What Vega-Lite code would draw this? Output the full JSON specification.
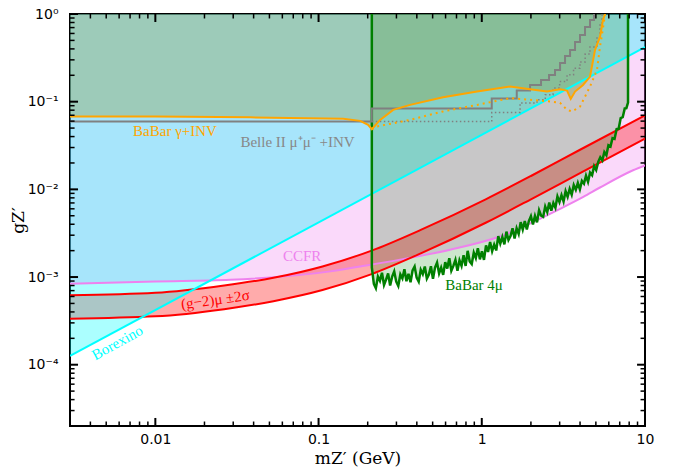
{
  "$schema": "https://vega.github.io/schema/vega-lite/v6.json",
  "width": 575,
  "height": 412,
  "autosize": {"type": "none"},
  "padding": {"left": 70, "top": 14, "right": 35, "bottom": 49},
  "background": "white",
  "config": {
    "view": {"stroke": "black", "strokeWidth": 2},
    "axis": {"domain": false, "grid": false, "labelFont": "DejaVu Sans", "labelFontSize": 14, "labelColor": "black", "labelFlush": false, "labelOverlap": false, "labelBound": false}
  },
  "datasets": {
    "xmajor": [{"v": 0.01}, {"v": 0.1}, {"v": 1}, {"v": 10}],
    "xminor": [{"v": 0.004}, {"v": 0.005}, {"v": 0.006}, {"v": 0.007}, {"v": 0.008}, {"v": 0.009},
               {"v": 0.02}, {"v": 0.03}, {"v": 0.04}, {"v": 0.05}, {"v": 0.06}, {"v": 0.07}, {"v": 0.08}, {"v": 0.09},
               {"v": 0.2}, {"v": 0.3}, {"v": 0.4}, {"v": 0.5}, {"v": 0.6}, {"v": 0.7}, {"v": 0.8}, {"v": 0.9},
               {"v": 2}, {"v": 3}, {"v": 4}, {"v": 5}, {"v": 6}, {"v": 7}, {"v": 8}, {"v": 9}],
    "ymajor": [{"v": 0.0001}, {"v": 0.001}, {"v": 0.01}, {"v": 0.1}, {"v": 1}],
    "yminor": [{"v": 3e-5}, {"v": 4e-5}, {"v": 5e-5}, {"v": 6e-5}, {"v": 7e-5}, {"v": 8e-5}, {"v": 9e-5},
               {"v": 0.0002}, {"v": 0.0003}, {"v": 0.0004}, {"v": 0.0005}, {"v": 0.0006}, {"v": 0.0007}, {"v": 0.0008}, {"v": 0.0009},
               {"v": 0.002}, {"v": 0.003}, {"v": 0.004}, {"v": 0.005}, {"v": 0.006}, {"v": 0.007}, {"v": 0.008}, {"v": 0.009},
               {"v": 0.02}, {"v": 0.03}, {"v": 0.04}, {"v": 0.05}, {"v": 0.06}, {"v": 0.07}, {"v": 0.08}, {"v": 0.09},
               {"v": 0.2}, {"v": 0.3}, {"v": 0.4}, {"v": 0.5}, {"v": 0.6}, {"v": 0.7}, {"v": 0.8}, {"v": 0.9}],
    "ccfr": [
      {"m": 0.003, "g": 0.00084}, {"m": 0.01, "g": 0.00089}, {"m": 0.0288, "g": 0.00093}, {"m": 0.118, "g": 0.00116},
      {"m": 0.18, "g": 0.00132}, {"m": 0.316, "g": 0.00158}, {"m": 0.64, "g": 0.00205}, {"m": 1.29, "g": 0.0029},
      {"m": 3.02, "g": 0.006}, {"m": 4.19, "g": 0.0082}, {"m": 5.3, "g": 0.0105}, {"m": 8.45, "g": 0.0165}, {"m": 10, "g": 0.0188}
    ],
    "gm2": [
      {"m": 0.003, "lo": 0.000335, "hi": 0.00062}, {"m": 0.01, "lo": 0.000356, "hi": 0.00066},
      {"m": 0.0264, "lo": 0.00043, "hi": 0.0008}, {"m": 0.0529, "lo": 0.00053, "hi": 0.00098},
      {"m": 0.1057, "lo": 0.00071, "hi": 0.00132}, {"m": 0.2114, "lo": 0.00108, "hi": 0.002},
      {"m": 0.4228, "lo": 0.00186, "hi": 0.00345}, {"m": 1.057, "lo": 0.00416, "hi": 0.0077},
      {"m": 2, "lo": 0.0077, "hi": 0.0142}, {"m": 4, "lo": 0.0153, "hi": 0.0283}, {"m": 10, "lo": 0.0378, "hi": 0.07}
    ],
    "borexino": [{"m": 0.003, "g": 0.000126}, {"m": 10, "g": 0.42}],
    "babar4mu": [
      {"k": 0, "m": 0.212, "g": 1}, {"k": 1, "m": 0.212, "g": 0.00129}, {"k": 2, "m": 0.2182, "g": 0.000835},
      {"k": 3, "m": 0.2244, "g": 0.000746}, {"k": 4, "m": 0.231, "g": 0.00101}, {"k": 5, "m": 0.2377, "g": 0.000904},
      {"k": 6, "m": 0.2446, "g": 0.00112}, {"k": 7, "m": 0.2518, "g": 0.000811}, {"k": 8, "m": 0.2592, "g": 0.000933},
      {"k": 9, "m": 0.2667, "g": 0.0011}, {"k": 10, "m": 0.2745, "g": 0.000799}, {"k": 11, "m": 0.2825, "g": 0.00101},
      {"k": 12, "m": 0.2907, "g": 0.00116}, {"k": 13, "m": 0.2992, "g": 0.000885}, {"k": 14, "m": 0.3079, "g": 0.000792},
      {"k": 15, "m": 0.317, "g": 0.00107}, {"k": 16, "m": 0.3263, "g": 0.000964}, {"k": 17, "m": 0.3357, "g": 0.00123},
      {"k": 18, "m": 0.3455, "g": 0.000895}, {"k": 19, "m": 0.3556, "g": 0.00109}, {"k": 20, "m": 0.366, "g": 0.000872},
      {"k": 21, "m": 0.3767, "g": 0.00119}, {"k": 22, "m": 0.3877, "g": 0.00132}, {"k": 23, "m": 0.399, "g": 0.000984},
      {"k": 24, "m": 0.4107, "g": 0.000885}, {"k": 25, "m": 0.4227, "g": 0.00121}, {"k": 26, "m": 0.435, "g": 0.00108},
      {"k": 27, "m": 0.4477, "g": 0.00132}, {"k": 28, "m": 0.4608, "g": 0.000963}, {"k": 29, "m": 0.4742, "g": 0.00107},
      {"k": 30, "m": 0.488, "g": 0.00133}, {"k": 31, "m": 0.5023, "g": 0.000955}, {"k": 32, "m": 0.517, "g": 0.00128},
      {"k": 33, "m": 0.5321, "g": 0.00146}, {"k": 34, "m": 0.5476, "g": 0.0011}, {"k": 35, "m": 0.5636, "g": 0.00128},
      {"k": 36, "m": 0.5801, "g": 0.00106}, {"k": 37, "m": 0.597, "g": 0.00148}, {"k": 38, "m": 0.6144, "g": 0.00125},
      {"k": 39, "m": 0.6324, "g": 0.00164}, {"k": 40, "m": 0.6509, "g": 0.00118}, {"k": 41, "m": 0.6699, "g": 0.00134},
      {"k": 42, "m": 0.6895, "g": 0.00157}, {"k": 43, "m": 0.7096, "g": 0.00118}, {"k": 44, "m": 0.7303, "g": 0.00155},
      {"k": 45, "m": 0.7516, "g": 0.00134}, {"k": 46, "m": 0.7736, "g": 0.00177}, {"k": 47, "m": 0.7962, "g": 0.00134},
      {"k": 48, "m": 0.8195, "g": 0.00199}, {"k": 49, "m": 0.8433, "g": 0.00151}, {"k": 50, "m": 0.8679, "g": 0.00141},
      {"k": 51, "m": 0.8933, "g": 0.0019}, {"k": 52, "m": 0.9194, "g": 0.00165}, {"k": 53, "m": 0.9462, "g": 0.00213},
      {"k": 54, "m": 0.9738, "g": 0.00159}, {"k": 55, "m": 1.0023, "g": 0.00196}, {"k": 56, "m": 1.0316, "g": 0.00157},
      {"k": 57, "m": 1.0617, "g": 0.0023}, {"k": 58, "m": 1.0927, "g": 0.00193}, {"k": 59, "m": 1.1246, "g": 0.00251},
      {"k": 60, "m": 1.1575, "g": 0.00197}, {"k": 61, "m": 1.1912, "g": 0.00234}, {"k": 62, "m": 1.226, "g": 0.00201},
      {"k": 63, "m": 1.2618, "g": 0.00293}, {"k": 64, "m": 1.2986, "g": 0.00241}, {"k": 65, "m": 1.3366, "g": 0.00286},
      {"k": 66, "m": 1.3756, "g": 0.00236}, {"k": 67, "m": 1.4158, "g": 0.0033}, {"k": 68, "m": 1.4571, "g": 0.00265},
      {"k": 69, "m": 1.4997, "g": 0.00294}, {"k": 70, "m": 1.5435, "g": 0.00359}, {"k": 71, "m": 1.5885, "g": 0.00275},
      {"k": 72, "m": 1.6349, "g": 0.00359}, {"k": 73, "m": 1.6827, "g": 0.0031}, {"k": 74, "m": 1.7318, "g": 0.00423},
      {"k": 75, "m": 1.7824, "g": 0.00348}, {"k": 76, "m": 1.8345, "g": 0.00434}, {"k": 77, "m": 1.888, "g": 0.00349},
      {"k": 78, "m": 1.9431, "g": 0.00435}, {"k": 79, "m": 2.0, "g": 0.00494}, {"k": 80, "m": 2.0584, "g": 0.00399},
      {"k": 81, "m": 2.118, "g": 0.00498}, {"k": 82, "m": 2.1799, "g": 0.00421}, {"k": 83, "m": 2.244, "g": 0.00578},
      {"k": 84, "m": 2.3095, "g": 0.005}, {"k": 85, "m": 2.377, "g": 0.00485}, {"k": 86, "m": 2.4464, "g": 0.00636},
      {"k": 87, "m": 2.518, "g": 0.00551}, {"k": 88, "m": 2.5915, "g": 0.00706}, {"k": 89, "m": 2.667, "g": 0.0057},
      {"k": 90, "m": 2.7449, "g": 0.00697}, {"k": 91, "m": 2.825, "g": 0.00618}, {"k": 92, "m": 2.9075, "g": 0.00829},
      {"k": 93, "m": 2.992, "g": 0.00718}, {"k": 94, "m": 3.0794, "g": 0.00858}, {"k": 95, "m": 3.17, "g": 0.00726},
      {"k": 96, "m": 3.2626, "g": 0.00952}, {"k": 97, "m": 3.357, "g": 0.00824}, {"k": 98, "m": 3.455, "g": 0.0101},
      {"k": 99, "m": 3.556, "g": 0.00871}, {"k": 100, "m": 3.6598, "g": 0.0112}, {"k": 101, "m": 3.767, "g": 0.00989},
      {"k": 102, "m": 3.877, "g": 0.0118}, {"k": 103, "m": 3.99, "g": 0.00998}, {"k": 104, "m": 4.1065, "g": 0.0125},
      {"k": 105, "m": 4.227, "g": 0.0116}, {"k": 106, "m": 4.3505, "g": 0.0143}, {"k": 107, "m": 4.477, "g": 0.0122},
      {"k": 108, "m": 4.6077, "g": 0.0155}, {"k": 109, "m": 4.742, "g": 0.0145}, {"k": 110, "m": 4.8805, "g": 0.0184},
      {"k": 111, "m": 5.023, "g": 0.0166}, {"k": 112, "m": 5.1697, "g": 0.0205}, {"k": 113, "m": 5.321, "g": 0.0232},
      {"k": 114, "m": 5.4764, "g": 0.0214}, {"k": 115, "m": 5.636, "g": 0.0266}, {"k": 116, "m": 5.8006, "g": 0.0245},
      {"k": 117, "m": 5.97, "g": 0.0318}, {"k": 118, "m": 6.1443, "g": 0.0308}, {"k": 119, "m": 6.324, "g": 0.0383},
      {"k": 120, "m": 6.5087, "g": 0.0376}, {"k": 121, "m": 6.699, "g": 0.0486}, {"k": 122, "m": 6.8946, "g": 0.049},
      {"k": 123, "m": 7.096, "g": 0.065}, {"k": 124, "m": 7.3032, "g": 0.0665}, {"k": 125, "m": 7.516, "g": 0.0838},
      {"k": 126, "m": 7.691, "g": 0.0844}, {"k": 127, "m": 7.87, "g": 0.0977}, {"k": 128, "m": 7.87, "g": 1}
    ],
    "gammainv": [
      {"m": 0.003, "g": 0.0677}, {"m": 0.01, "g": 0.0677}, {"m": 0.0381, "g": 0.0663}, {"m": 0.1415, "g": 0.0637},
      {"m": 0.1798, "g": 0.0604}, {"m": 0.2012, "g": 0.0544}, {"m": 0.212, "g": 0.0486}, {"m": 0.2383, "g": 0.062},
      {"m": 0.2862, "g": 0.0806}, {"m": 0.3638, "g": 0.0919}, {"m": 0.5794, "g": 0.1125}, {"m": 0.9359, "g": 0.1303},
      {"m": 1.49, "g": 0.1486}, {"m": 1.976, "g": 0.1388}, {"m": 2.511, "g": 0.1303}, {"m": 3.017, "g": 0.1388},
      {"m": 3.33, "g": 0.1338}, {"m": 3.508, "g": 0.1076}, {"m": 3.727, "g": 0.1303}, {"m": 4.172, "g": 0.1553},
      {"m": 4.604, "g": 0.1931}, {"m": 4.941, "g": 0.389}, {"m": 5.302, "g": 0.551}, {"m": 5.532, "g": 0.855}, {"m": 5.689, "g": 1}
    ],
    "gammainvproj": [
      {"m": 0.212, "g": 0.0486}, {"m": 0.2286, "g": 0.0522}, {"m": 0.3638, "g": 0.062}, {"m": 0.5794, "g": 0.0774},
      {"m": 0.936, "g": 0.0919}, {"m": 1.49, "g": 0.1098}, {"m": 1.716, "g": 0.1072}, {"m": 2.619, "g": 0.1005},
      {"m": 3.017, "g": 0.097}, {"m": 3.33, "g": 0.0806}, {"m": 3.573, "g": 0.0774}, {"m": 4.0, "g": 0.0879},
      {"m": 4.604, "g": 0.1487}, {"m": 5.08, "g": 0.2303}, {"m": 5.302, "g": 0.4242}, {"m": 5.532, "g": 0.693}, {"m": 5.689, "g": 1}
    ],
    "belle": [
      {"m": 0.003, "g": 0.0593}, {"m": 0.212, "g": 0.0834}, {"m": 1.151, "g": 0.1085}, {"m": 1.638, "g": 0.1338},
      {"m": 1.976, "g": 0.1553}, {"m": 2.307, "g": 0.177}, {"m": 2.583, "g": 0.202}, {"m": 2.81, "g": 0.2303},
      {"m": 3.017, "g": 0.2766}, {"m": 3.236, "g": 0.3323}, {"m": 3.474, "g": 0.389}, {"m": 3.727, "g": 0.48},
      {"m": 3.998, "g": 0.5765}, {"m": 4.29, "g": 0.711}, {"m": 4.604, "g": 0.855}, {"m": 4.868, "g": 1}
    ],
    "belleproj": [
      {"m": 0.212, "g": 0.0593}, {"m": 1.151, "g": 0.0751}, {"m": 1.716, "g": 0.0969}, {"m": 2.18, "g": 0.105},
      {"m": 2.45, "g": 0.12}, {"m": 2.733, "g": 0.1436}, {"m": 3.0, "g": 0.17}, {"m": 3.33, "g": 0.2023},
      {"m": 3.65, "g": 0.24}, {"m": 4.0, "g": 0.2843}, {"m": 4.3, "g": 0.35}, {"m": 4.6, "g": 0.421},
      {"m": 5.08, "g": 0.547}, {"m": 5.3, "g": 0.75}, {"m": 5.455, "g": 1}
    ],
    "labels": [
      {"id": "babar", "t": "BaBar γ+INV", "m": 0.0132, "g": 0.0465},
      {"id": "belle", "t": "Belle II μ⁺μ⁻  +INV", "m": 0.0743, "g": 0.0348},
      {"id": "ccfr", "t": "CCFR", "m": 0.0793, "g": 0.00175},
      {"id": "gm2", "t": "(g−2)μ ±2σ", "m": 0.0233, "g": 0.000553},
      {"id": "borexino", "t": "Borexino", "m": 0.00585, "g": 0.000179},
      {"id": "babar4mu", "t": "BaBar 4μ", "m": 0.897, "g": 0.000819}
    ]
  },
  "layer": [
    {
      "data": {"name": "ccfr"},
      "mark": {"type": "area", "color": "#ee82ee", "fillOpacity": 0.3, "interpolate": "monotone"},
      "encoding": {
        "x": {"field": "m", "type": "quantitative", "scale": {"type": "log", "domain": [0.003, 10], "nice": false},
              "axis": {"orient": "bottom", "values": [0.01, 0.1, 1, 10], "ticks": false, "labelPadding": 6, "format": "~g",
                       "title": "mZ′ (GeV)", "titleFont": "DejaVu Serif", "titleFontSize": 17, "titleFontWeight": "normal", "titlePadding": 4}},
        "y": {"field": "g", "type": "quantitative", "scale": {"type": "log", "domain": [2e-5, 1], "nice": false},
              "axis": {"orient": "left", "values": [0.0001, 0.001, 0.01, 0.1, 1], "ticks": false, "labelPadding": 12,
                       "labelExpr": "'10' + ['⁰','⁻¹','⁻²','⁻³','⁻⁴','⁻⁵'][-round(log(datum.value)/LN10)]",
                       "title": "gZ′", "titleFont": "DejaVu Serif", "titleFontSize": 17, "titleFontWeight": "normal", "titlePadding": 0}},
        "y2": {"datum": 1}
      }
    },
    {
      "data": {"name": "gm2"},
      "mark": {"type": "area", "color": "#ff0000", "fillOpacity": 0.33, "interpolate": "monotone"},
      "encoding": {"x": {"field": "m", "type": "quantitative"}, "y": {"field": "lo", "type": "quantitative"}, "y2": {"field": "hi"}}
    },
    {
      "data": {"name": "borexino"},
      "mark": {"type": "area", "color": "#00ffff", "fillOpacity": 0.33},
      "encoding": {"x": {"field": "m", "type": "quantitative"}, "y": {"field": "g", "type": "quantitative"}, "y2": {"datum": 1}}
    },
    {
      "data": {"name": "babar4mu"},
      "transform": [{"filter": "datum.k >= 1 && datum.k <= 127"}],
      "mark": {"type": "area", "color": "#008000", "fillOpacity": 0.2},
      "encoding": {"x": {"field": "m", "type": "quantitative"}, "y": {"field": "g", "type": "quantitative"}, "y2": {"datum": 1}}
    },
    {
      "data": {"name": "gammainv"},
      "mark": {"type": "area", "color": "#8c9c40", "fillOpacity": 0.35},
      "encoding": {"x": {"field": "m", "type": "quantitative"}, "y": {"field": "g", "type": "quantitative"}, "y2": {"datum": 1}}
    },
    {
      "data": {"name": "ccfr"},
      "mark": {"type": "line", "color": "#ee82ee", "strokeWidth": 2, "interpolate": "monotone", "clip": true},
      "encoding": {"x": {"field": "m", "type": "quantitative"}, "y": {"field": "g", "type": "quantitative"}}
    },
    {
      "data": {"name": "gm2"},
      "mark": {"type": "line", "color": "#ff0000", "strokeWidth": 2, "interpolate": "monotone", "clip": true},
      "encoding": {"x": {"field": "m", "type": "quantitative"}, "y": {"field": "lo", "type": "quantitative"}}
    },
    {
      "data": {"name": "gm2"},
      "mark": {"type": "line", "color": "#ff0000", "strokeWidth": 2, "interpolate": "monotone", "clip": true},
      "encoding": {"x": {"field": "m", "type": "quantitative"}, "y": {"field": "hi", "type": "quantitative"}}
    },
    {
      "data": {"name": "borexino"},
      "mark": {"type": "line", "color": "#00ffff", "strokeWidth": 2, "clip": true},
      "encoding": {"x": {"field": "m", "type": "quantitative"}, "y": {"field": "g", "type": "quantitative"}}
    },
    {
      "data": {"name": "babar4mu"},
      "mark": {"type": "line", "color": "#008000", "strokeWidth": 2.5, "clip": true},
      "encoding": {"x": {"field": "m", "type": "quantitative"}, "y": {"field": "g", "type": "quantitative"}, "order": {"field": "k"}}
    },
    {
      "data": {"name": "belle"},
      "mark": {"type": "line", "color": "#808080", "strokeWidth": 2, "interpolate": "step-after", "clip": true},
      "encoding": {"x": {"field": "m", "type": "quantitative"}, "y": {"field": "g", "type": "quantitative"}}
    },
    {
      "data": {"name": "belleproj"},
      "mark": {"type": "line", "color": "#808080", "strokeWidth": 1.5, "strokeDash": [1.5, 2.5], "interpolate": "step-after", "clip": true},
      "encoding": {"x": {"field": "m", "type": "quantitative"}, "y": {"field": "g", "type": "quantitative"}}
    },
    {
      "data": {"name": "gammainv"},
      "mark": {"type": "line", "color": "#ffa500", "strokeWidth": 2, "clip": true},
      "encoding": {"x": {"field": "m", "type": "quantitative"}, "y": {"field": "g", "type": "quantitative"}}
    },
    {
      "data": {"name": "gammainvproj"},
      "mark": {"type": "line", "color": "#ffa500", "strokeWidth": 2, "strokeDash": [2, 4], "clip": true},
      "encoding": {"x": {"field": "m", "type": "quantitative"}, "y": {"field": "g", "type": "quantitative"}}
    },
    {
      "data": {"name": "xmajor"},
      "mark": {"type": "rule", "color": "black", "strokeWidth": 2, "opacity": 1},
      "encoding": {"x": {"field": "v", "type": "quantitative"}, "y": {"datum": 2e-5}, "y2": {"datum": 2.47e-5}}
    },
    {
      "data": {"name": "xmajor"},
      "mark": {"type": "rule", "color": "black", "strokeWidth": 2, "opacity": 1},
      "encoding": {"x": {"field": "v", "type": "quantitative"}, "y": {"datum": 1}, "y2": {"datum": 0.81}}
    },
    {
      "data": {"name": "xminor"},
      "mark": {"type": "rule", "color": "black", "strokeWidth": 1.5, "opacity": 1},
      "encoding": {"x": {"field": "v", "type": "quantitative"}, "y": {"datum": 2e-5}, "y2": {"datum": 2.25e-5}}
    },
    {
      "data": {"name": "xminor"},
      "mark": {"type": "rule", "color": "black", "strokeWidth": 1.5, "opacity": 1},
      "encoding": {"x": {"field": "v", "type": "quantitative"}, "y": {"datum": 1}, "y2": {"datum": 0.889}}
    },
    {
      "data": {"name": "ymajor"},
      "mark": {"type": "rule", "color": "black", "strokeWidth": 2, "opacity": 1},
      "encoding": {"y": {"field": "v", "type": "quantitative"}, "x": {"datum": 0.003}, "x2": {"datum": 0.00336}}
    },
    {
      "data": {"name": "ymajor"},
      "mark": {"type": "rule", "color": "black", "strokeWidth": 2, "opacity": 1},
      "encoding": {"y": {"field": "v", "type": "quantitative"}, "x": {"datum": 10}, "x2": {"datum": 8.94}}
    },
    {
      "data": {"name": "yminor"},
      "mark": {"type": "rule", "color": "black", "strokeWidth": 1.5, "opacity": 1},
      "encoding": {"y": {"field": "v", "type": "quantitative"}, "x": {"datum": 0.003}, "x2": {"datum": 0.0032}}
    },
    {
      "data": {"name": "yminor"},
      "mark": {"type": "rule", "color": "black", "strokeWidth": 1.5, "opacity": 1},
      "encoding": {"y": {"field": "v", "type": "quantitative"}, "x": {"datum": 10}, "x2": {"datum": 9.39}}
    },
    {
      "data": {"name": "labels"},
      "transform": [{"filter": "datum.id == 'babar'"}],
      "mark": {"type": "text", "font": "Liberation Serif", "fontSize": 15, "color": "#ffa500"},
      "encoding": {"x": {"field": "m", "type": "quantitative"}, "y": {"field": "g", "type": "quantitative"}, "text": {"field": "t"}}
    },
    {
      "data": {"name": "labels"},
      "transform": [{"filter": "datum.id == 'belle'"}],
      "mark": {"type": "text", "font": "Liberation Serif", "fontSize": 15, "color": "#888888"},
      "encoding": {"x": {"field": "m", "type": "quantitative"}, "y": {"field": "g", "type": "quantitative"}, "text": {"field": "t"}}
    },
    {
      "data": {"name": "labels"},
      "transform": [{"filter": "datum.id == 'ccfr'"}],
      "mark": {"type": "text", "font": "Liberation Serif", "fontSize": 15, "color": "#ee82ee"},
      "encoding": {"x": {"field": "m", "type": "quantitative"}, "y": {"field": "g", "type": "quantitative"}, "text": {"field": "t"}}
    },
    {
      "data": {"name": "labels"},
      "transform": [{"filter": "datum.id == 'gm2'"}],
      "mark": {"type": "text", "font": "Liberation Serif", "fontSize": 15, "color": "#ff0000", "angle": 352},
      "encoding": {"x": {"field": "m", "type": "quantitative"}, "y": {"field": "g", "type": "quantitative"}, "text": {"field": "t"}}
    },
    {
      "data": {"name": "labels"},
      "transform": [{"filter": "datum.id == 'borexino'"}],
      "mark": {"type": "text", "font": "Liberation Serif", "fontSize": 15, "color": "#00ffff", "angle": 331},
      "encoding": {"x": {"field": "m", "type": "quantitative"}, "y": {"field": "g", "type": "quantitative"}, "text": {"field": "t"}}
    },
    {
      "data": {"name": "labels"},
      "transform": [{"filter": "datum.id == 'babar4mu'"}],
      "mark": {"type": "text", "font": "Liberation Serif", "fontSize": 15, "color": "#008000"},
      "encoding": {"x": {"field": "m", "type": "quantitative"}, "y": {"field": "g", "type": "quantitative"}, "text": {"field": "t"}}
    }
  ]
}
